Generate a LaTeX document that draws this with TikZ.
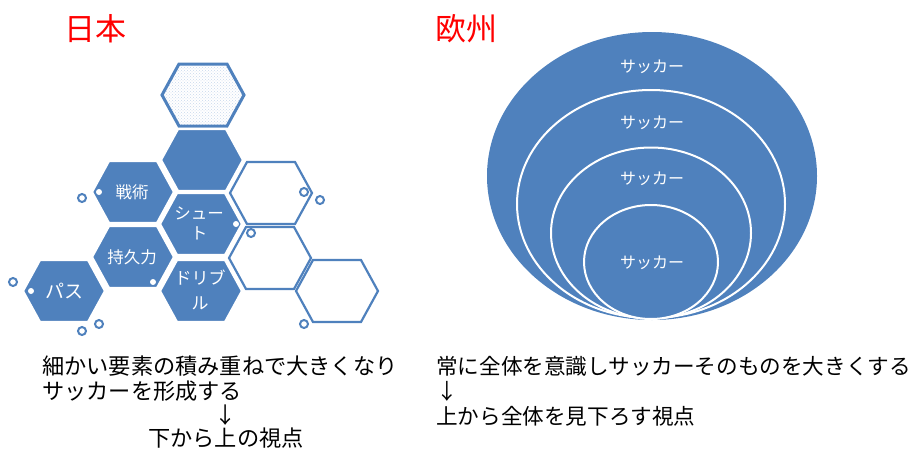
\documentclass[tikz,border=0pt]{standalone}
\usepackage{fontspec}
\setmainfont{Noto Sans CJK JP}
\usetikzlibrary{shapes.geometric,patterns}
\definecolor{hexblue}{HTML}{4F81BD}
\definecolor{dotblue}{HTML}{C8D7EC}
\newcommand\hexat[3]{\path[#3,shift={(#1,#2)}] (-41,0) -- (-24,-31) -- (24,-31) -- (41,0) -- (24,31) -- (-24,31) -- cycle;}
\begin{document}
\begin{tikzpicture}[x=1pt,y=-1pt,
  fullhex/.style={fill=hexblue,draw=white,line width=2.2pt,line join=miter},
  openhex/.style={fill=white,draw=hexblue,line width=2.2pt,line join=miter},
  dothex/.style={preaction={fill=white},pattern=crosshatch dots,pattern color=dotblue,draw=hexblue,line width=3pt},
  hextext/.style={text=white,font=\fontsize{16.5}{20}\selectfont,align=center,inner sep=0pt},
  ring/.style={circle,draw=hexblue,fill=white,line width=2pt,minimum size=8pt,inner sep=0pt},
  wdot/.style={circle,fill=white,minimum size=6pt,inner sep=0pt},
  title/.style={text=red,font=\fontsize{31}{34}\selectfont,inner sep=0pt},
  body/.style={font=\fontsize{22.2}{25}\selectfont,anchor=west,inner sep=0pt},
  bodyr/.style={font=\fontsize{21.6}{25}\selectfont,anchor=west,inner sep=0pt},
  oval/.style={ellipse,fill=hexblue,inner sep=0pt},
  ovaltext/.style={text=white,font=\fontsize{16}{18}\selectfont,inner sep=0pt}]
\useasboundingbox (0,0) rectangle (910,450);
% titles
\node[title] (tjp) at (95,29) {日本};
\node[title] (teu) at (466,29) {欧州};
% hexagons
\hexat{203}{95}{dothex}
\hexat{202}{160}{fullhex}
\hexat{133}{192}{fullhex}
\hexat{201}{224}{fullhex}
\hexat{133}{257}{fullhex}
\hexat{201}{291}{fullhex}
\hexat{64}{291}{fullhex}
\hexat{271}{193}{openhex}
\hexat{270}{258}{openhex}
\hexat{337}{291}{openhex}
% hex texts
\node[hextext] (senjutsu) at (132,192) {戦術};
\node[hextext] (shoot) at (199,223) {シュー\\ト};
\node[hextext] (jikyu) at (132,257) {持久力};
\node[hextext,font=\fontsize{17}{25}\selectfont] (dribble) at (200,290) {ドリブ\\ル};
\node[hextext,font=\fontsize{19}{22}\selectfont] (pass) at (64,291) {パス};
% small dots and rings
\node[wdot] (d1) at (99,192) {};
\node[wdot] (d2) at (236,224) {};
\node[wdot] (d3) at (153,282) {};
\node[wdot] (d4) at (31,291) {};
\node[ring] (r1) at (82,198) {};
\node[ring] (r2) at (304,192) {};
\node[ring] (r3) at (320,200) {};
\node[ring] (r4) at (251,233) {};
\node[ring] (r5) at (13,282) {};
\node[ring] (r6) at (99,324) {};
\node[ring] (r7) at (82,331) {};
\node[ring] (r8) at (304,324) {};
% ellipses
\node[oval,minimum width=330pt,minimum height=288pt] (e1) at (652,176) {};
\node[oval,draw=white,line width=2pt,minimum width=268pt,minimum height=228pt] (e2) at (651,204) {};
\node[oval,draw=white,line width=2pt,minimum width=200pt,minimum height=171pt] (e3) at (651,233) {};
\node[oval,draw=white,line width=2pt,minimum width=134pt,minimum height=114pt] (e4) at (651,262) {};
\node[ovaltext] (s1) at (652,67) {サッカー};
\node[ovaltext] (s2) at (652,123) {サッカー};
\node[ovaltext] (s3) at (652,179) {サッカー};
\node[ovaltext] (s4) at (652,263) {サッカー};
% bottom texts
\node[body] (l1) at (42,366) {細かい要素の積み重ねで大きくなり};
\node[body] (l2) at (42,391) {サッカーを形成する};
\node[body,anchor=center] (l3) at (226,415) {↓};
\node[body,anchor=center] (l4) at (226,438) {下から上の視点};
\node[bodyr] (r1t) at (436,366) {常に全体を意識しサッカーそのものを大きくする};
\node[bodyr] (r2t) at (436,391) {↓};
\node[bodyr] (r3t) at (436,416) {上から全体を見下ろす視点};
\end{tikzpicture}
\end{document}
